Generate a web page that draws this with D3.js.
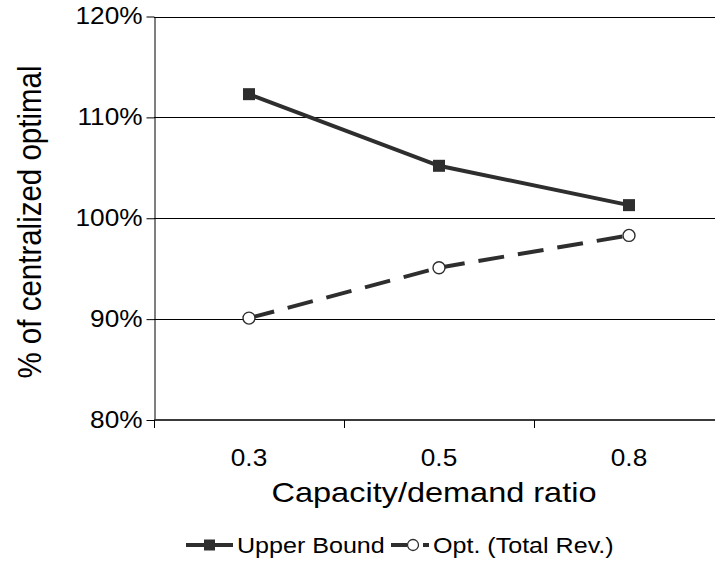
<!DOCTYPE html>
<html>
<head>
<meta charset="utf-8">
<script src="https://cdn.jsdelivr.net/npm/d3@7"></script>
<style>
  html, body { margin: 0; padding: 0; background: #fff; }
  svg { display: block; font-family: Arial, "Liberation Sans", sans-serif; }
</style>
</head>
<body>
<svg id="chart"></svg>
<script>
// chart values
const categories = ["0.3", "0.5", "0.8"];
const upperBound = [112.3, 105.2, 101.3];
const optTotalRev = [90.1, 95.1, 98.3];
const yTicks = [80, 90, 100, 110, 120];
const seriesNames = ["Upper Bound", "Opt. (Total Rev.)"];

const W = 715, H = 567;
const ink = "#2e2e2e";
const sx = 1.14; // the original's text is a bit wide

const svg = d3.select("#chart").attr("width", W).attr("height", H);

// helper: text placed at (px,py), stretched sideways
const wideText = (g, px, py, size, str, anchor, rot) =>
  g.append("text")
    .attr("transform", `translate(${px},${py}) scale(${sx},1)` + (rot ? ` rotate(${rot})` : ""))
    .attr("text-anchor", anchor || "start")
    .attr("font-size", size)
    .attr("fill", "#000")
    .text(str);

// plot area runs past the right edge, like the cropped original
const x = d3.scaleBand().domain(categories).range([154, 724]);
const y = d3.scaleLinear().domain([80, 120]).range([420, 16.5]);

// gridlines
svg.append("g")
  .selectAll("line")
  .data(yTicks.filter(d => d > 80))
  .join("line")
  .attr("x1", 154).attr("x2", W)
  .attr("y1", d => Math.round(y(d)) + 0.5)
  .attr("y2", d => Math.round(y(d)) + 0.5)
  .attr("stroke", "#000")
  .attr("stroke-width", 1);

// y axis
const yAxis = svg.append("g")
  .attr("transform", "translate(154.5,0)")
  .call(d3.axisLeft(y).tickValues(yTicks).tickFormat(d => d + "%").tickSize(8).tickSizeOuter(0).tickPadding(2.5));
yAxis.select(".domain").attr("stroke", "#000");
yAxis.selectAll(".tick line").attr("stroke", "#000");
yAxis.selectAll("text")
  .attr("font-size", 23).attr("fill", "#000").attr("font-family", null)
  .attr("transform", `scale(${sx},1)`);

// x axis, ticks sit between categories
const xAxis = svg.append("g")
  .attr("transform", "translate(0,420)");
xAxis.append("line")
  .attr("x1", 154).attr("x2", W)
  .attr("stroke", "#3a3a3a").attr("stroke-width", 2);
xAxis.selectAll(".sep")
  .data(categories)
  .join("line")
  .attr("class", "sep")
  .attr("x1", d => Math.round(x(d)) + 0.5)
  .attr("x2", d => Math.round(x(d)) + 0.5)
  .attr("y1", 0).attr("y2", 8)
  .attr("stroke", "#000");
categories.forEach(c => wideText(xAxis, x(c) + x.bandwidth() / 2, 46, 23, c, "middle"));

// axis titles
wideText(svg, 434, 502, 28.5, "Capacity/demand ratio", "middle");
wideText(svg, 41, 222, 29.5, "% of centralized optimal", "middle", -90);

const cx = d => x(d) + x.bandwidth() / 2;

// series lines (each segment restarts its dash pattern)
const pairs = vals => d3.pairs(vals.map((v, i) => [cx(categories[i]), y(v)]));

svg.append("g")
  .selectAll("line")
  .data(pairs(optTotalRev))
  .join("line")
  .attr("x1", d => d[0][0]).attr("y1", d => d[0][1])
  .attr("x2", d => d[1][0]).attr("y2", d => d[1][1])
  .attr("stroke", ink).attr("stroke-width", 4)
  .attr("stroke-dasharray", "26,14");

svg.append("path")
  .datum(upperBound)
  .attr("fill", "none")
  .attr("stroke", ink)
  .attr("stroke-width", 4)
  .attr("d", d3.line().x((d, i) => cx(categories[i])).y(d => y(d)));

// markers
svg.append("g")
  .selectAll("rect")
  .data(upperBound)
  .join("rect")
  .attr("x", (d, i) => cx(categories[i]) - 6)
  .attr("y", d => y(d) - 6)
  .attr("width", 12).attr("height", 12)
  .attr("fill", ink);

svg.append("g")
  .selectAll("circle")
  .data(optTotalRev)
  .join("circle")
  .attr("cx", (d, i) => cx(categories[i]))
  .attr("cy", d => y(d))
  .attr("r", 6)
  .attr("fill", "#fff")
  .attr("stroke", ink)
  .attr("stroke-width", 1.4);

// legend
const legend = svg.append("g").attr("transform", "translate(0,545)");

legend.append("line")
  .attr("x1", 186).attr("x2", 233)
  .attr("stroke", ink).attr("stroke-width", 4);
legend.append("rect")
  .attr("x", 204).attr("y", -5.5).attr("width", 11).attr("height", 11)
  .attr("fill", ink);
wideText(legend, 237, 8, 22, seriesNames[0]);

legend.append("line")
  .attr("x1", 391).attr("x2", 407)
  .attr("stroke", ink).attr("stroke-width", 4);
legend.append("line")
  .attr("x1", 423).attr("x2", 429)
  .attr("stroke", ink).attr("stroke-width", 4);
legend.append("circle")
  .attr("cx", 413).attr("cy", 0).attr("r", 5.5)
  .attr("fill", "#fff").attr("stroke", ink).attr("stroke-width", 1.3);
wideText(legend, 433, 8, 22, seriesNames[1]);
</script>
</body>
</html>
